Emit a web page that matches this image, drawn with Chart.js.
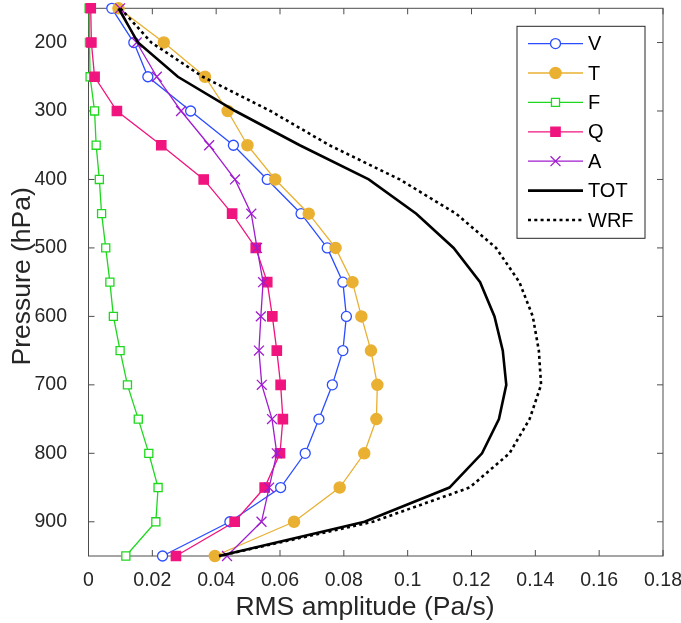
<!DOCTYPE html>
<html>
<head>
<meta charset="utf-8">
<script src="https://cdn.jsdelivr.net/npm/chart.js@4.4.1/dist/chart.umd.min.js"></script>
<style>
  body { margin: 0; background: #fff; }
  #wrap { width: 681px; height: 623px; }
</style>
</head>
<body>
<div id="wrap"><canvas id="rmsChart" width="681" height="623"></canvas></div>
<script>
// pressure levels (hPa) and axis ticks
const pressure = [150, 200, 250, 300, 350, 400, 450, 500, 550, 600, 650, 700, 750, 800, 850, 900, 950];
const xTicks = [0, 0.02, 0.04, 0.06, 0.08, 0.1, 0.12, 0.14, 0.16, 0.18];
const yTicks = [200, 300, 400, 500, 600, 700, 800, 900];

// RMS amplitude (Pa/s) per level
const rmsV = [0.0073, 0.0142, 0.0186, 0.032, 0.0454, 0.056, 0.0666, 0.0748, 0.0797, 0.0808, 0.0797, 0.0764, 0.0722, 0.0679, 0.0602, 0.0443, 0.0232];
const rmsT = [0.0094, 0.0236, 0.0365, 0.0436, 0.0498, 0.0585, 0.069, 0.0774, 0.0827, 0.0855, 0.0885, 0.0905, 0.0902, 0.0864, 0.0787, 0.0644, 0.0396];
const rmsF = [0.0002, 0.0003, 0.0005, 0.0019, 0.0024, 0.0034, 0.0041, 0.0054, 0.0067, 0.0078, 0.0099, 0.0122, 0.0156, 0.0189, 0.0218, 0.0211, 0.0117];
const rmsQ = [0.0007, 0.0009, 0.0019, 0.0089, 0.0228, 0.0361, 0.045, 0.0524, 0.056, 0.0576, 0.059, 0.0602, 0.0609, 0.06, 0.0552, 0.0458, 0.0274];
const rmsA = [0.0099, 0.0151, 0.0214, 0.029, 0.0378, 0.0459, 0.051, 0.0528, 0.0547, 0.054, 0.0534, 0.0543, 0.0575, 0.059, 0.0566, 0.0542, 0.0434];
const rmsTOT = [0.0094, 0.0155, 0.028, 0.046, 0.0662, 0.0878, 0.1027, 0.1144, 0.1227, 0.1272, 0.1298, 0.1309, 0.1286, 0.1233, 0.1131, 0.0865, 0.0409];
const rmsWRF = [0.01, 0.0197, 0.0358, 0.057, 0.0755, 0.0975, 0.1152, 0.1277, 0.135, 0.1392, 0.1411, 0.1418, 0.1382, 0.1319, 0.1194, 0.0891, 0.0409];

const FONT = '"Liberation Sans", Arial, sans-serif';

function pts(vals) {
  return vals.map((v, i) => ({ x: v, y: pressure[i] }));
}

function series(label, vals, color, style, radius, fill, width, dash) {
  return {
    label: label,
    data: pts(vals),
    showLine: true,
    borderColor: color,
    borderWidth: width,
    borderDash: dash || [],
    pointStyle: style,
    pointRadius: radius,
    pointBorderColor: color,
    pointBackgroundColor: fill,
    pointBorderWidth: 1.3,
    tension: 0,
    clip: false
  };
}

const datasets = [
  series('V', rmsV, '#2b4dff', 'circle', 5, '#fff', 1.3),
  series('T', rmsT, '#e9b032', 'circle', 5.6, '#e9b032', 1.3),
  series('F', rmsF, '#1ed81e', 'rect', 5.7, '#fff', 1.3),
  series('Q', rmsQ, '#f0147e', 'rect', 6.6, '#f0147e', 1.3),
  series('A', rmsA, '#a01ccf', 'crossRot', 7, '#a01ccf', 1.3),
  series('TOT', rmsTOT, '#000', 'circle', 0, '#000', 2.6),
  series('WRF', rmsWRF, '#000', 'circle', 0, '#000', 2.6, [3, 3.3])
];
// later series on top, like the original
datasets.forEach((d, i) => { d.order = datasets.length - i; });

// marker drawing for the legend
function marker(ctx, ds, x, y) {
  const r = ds.pointRadius;
  if (!r) return;
  ctx.save();
  ctx.lineWidth = ds.pointBorderWidth;
  ctx.strokeStyle = ds.pointBorderColor;
  ctx.fillStyle = ds.pointBackgroundColor;
  ctx.beginPath();
  if (ds.pointStyle === 'circle') {
    ctx.arc(x, y, r, 0, Math.PI * 2);
    ctx.fill(); ctx.stroke();
  } else if (ds.pointStyle === 'rect') {
    const s = r * Math.SQRT1_2;
    ctx.rect(x - s, y - s, 2 * s, 2 * s);
    ctx.fill(); ctx.stroke();
  } else {
    const s = r * Math.SQRT1_2;
    ctx.moveTo(x - s, y - s); ctx.lineTo(x + s, y + s);
    ctx.moveTo(x + s, y - s); ctx.lineTo(x - s, y + s);
    ctx.stroke();
  }
  ctx.restore();
}

// box with inward ticks on all four sides
const frame = {
  id: 'frame',
  beforeDatasetsDraw(chart) {
    const { ctx, chartArea: a, scales } = chart;
    const tl = 6;
    ctx.save();
    ctx.strokeStyle = '#4d4d4d';
    ctx.lineWidth = 1;
    ctx.strokeRect(a.left, a.top, a.right - a.left, a.bottom - a.top);
    ctx.beginPath();
    xTicks.forEach(v => {
      const px = scales.x.getPixelForValue(v);
      ctx.moveTo(px, a.bottom); ctx.lineTo(px, a.bottom - tl);
      ctx.moveTo(px, a.top); ctx.lineTo(px, a.top + tl);
    });
    yTicks.forEach(v => {
      const py = scales.y.getPixelForValue(v);
      ctx.moveTo(a.left, py); ctx.lineTo(a.left + tl, py);
      ctx.moveTo(a.right, py); ctx.lineTo(a.right - tl, py);
    });
    ctx.stroke();
    ctx.restore();
  }
};

// axis titles, placed like the original figure
const axisTitles = {
  id: 'axisTitles',
  afterDraw(chart) {
    const { ctx, chartArea: a } = chart;
    ctx.save();
    ctx.fillStyle = '#262626';
    ctx.font = '26.5px ' + FONT;
    ctx.textAlign = 'center';
    ctx.textBaseline = 'middle';
    ctx.fillText('RMS amplitude (Pa/s)', a.left + 276.5, a.bottom + 52);
    ctx.translate(22.5, a.top + 268);
    ctx.rotate(-Math.PI / 2);
    ctx.fillText('Pressure (hPa)', 0, 0);
    ctx.restore();
  }
};

const boxLegend = {
  id: 'boxLegend',
  afterDraw(chart) {
    const { ctx, chartArea: a } = chart;
    const x0 = a.right - 146, y0 = a.top + 18, w = 128, h = 212, step = 29.4;
    ctx.save();
    ctx.fillStyle = '#fff';
    ctx.fillRect(x0, y0, w, h);
    ctx.strokeStyle = '#262626';
    ctx.lineWidth = 1;
    ctx.strokeRect(x0, y0, w, h);
    chart.data.datasets.forEach((ds, i) => {
      const y = y0 + 17.3 + i * step;
      ctx.strokeStyle = ds.borderColor;
      ctx.lineWidth = ds.borderWidth;
      ctx.setLineDash(ds.borderDash);
      ctx.beginPath();
      ctx.moveTo(x0 + 11, y); ctx.lineTo(x0 + 66, y);
      ctx.stroke();
      ctx.setLineDash([]);
      marker(ctx, ds, x0 + 38.5, y);
      ctx.fillStyle = '#000';
      ctx.font = '20px ' + FONT;
      ctx.textBaseline = 'middle';
      ctx.textAlign = 'left';
      ctx.fillText(ds.label, x0 + 71, y + 1);
    });
    ctx.restore();
  }
};

const chart = new Chart(document.getElementById('rmsChart'), {
  type: 'scatter',
  data: { datasets: datasets },
  options: {
    responsive: false,
    animation: false,
    events: [],
    layout: { padding: { top: 6.7, right: 18, left: 0, bottom: 0 } },
    plugins: { legend: { display: false }, tooltip: { enabled: false } },
    scales: {
      x: {
        type: 'linear',
        min: 0,
        max: 0.18,
        afterBuildTicks: s => { s.ticks = xTicks.map(v => ({ value: v })); },
        afterFit: s => { s.height = 67; s.paddingLeft = 0; s.paddingRight = 0; },
        grid: { display: false },
        border: { display: false },
        ticks: {
          color: '#262626',
          padding: 5,
          maxRotation: 0,
          font: { family: FONT, size: 19.5 },
          callback: v => String(+v.toFixed(2))
        }
      },
      y: {
        type: 'linear',
        min: 150,
        max: 950,
        reverse: true,
        afterBuildTicks: s => { s.ticks = yTicks.map(v => ({ value: v })); },
        afterFit: s => { s.width = 88.5; s.paddingTop = 0; s.paddingBottom = 0; },
        grid: { display: false },
        border: { display: false },
        ticks: {
          color: '#262626',
          padding: 13.5,
          font: { family: FONT, size: 19.5 },
          callback: v => String(v)
        }
      }
    }
  },
  plugins: [frame, axisTitles, boxLegend]
});
</script>
</body>
</html>
